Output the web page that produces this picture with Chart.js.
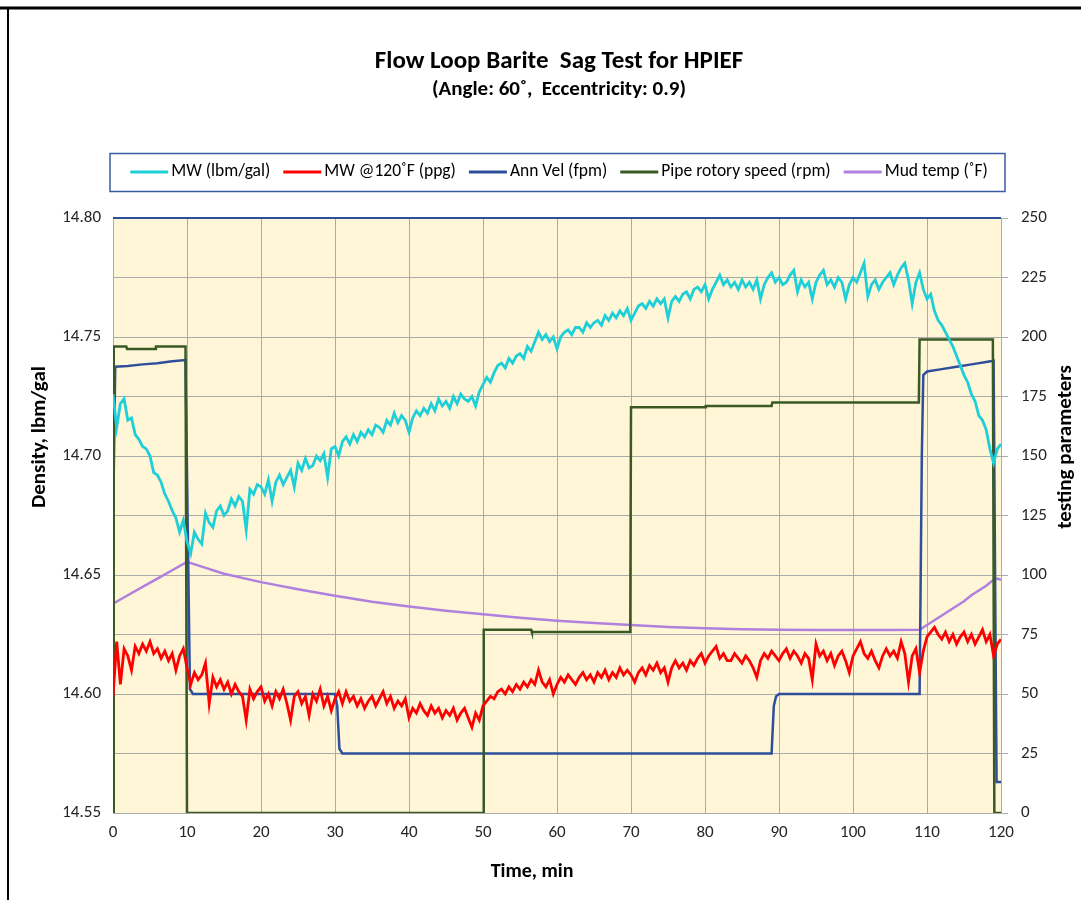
<!DOCTYPE html>
<html>
<head>
<meta charset="utf-8">
<title>Flow Loop Barite Sag Test for HPIEF</title>
<script src="https://cdn.jsdelivr.net/npm/chart.js@4.4.1/dist/chart.umd.min.js"></script>
<style>
  html, body { margin: 0; padding: 0; background: #fff; }
  #wrap { width: 1081px; height: 900px; }
</style>
</head>
<body>
<div id="wrap"><canvas id="sag-chart" width="1081" height="900"></canvas></div>
<script>
const FONT = "Carlito, Calibri, Lato, sans-serif";

const TITLE = "Flow Loop Barite  Sag Test for HPIEF";
const SUBTITLE = "(Angle: 60˚,  Eccentricity: 0.9)";
const X_TITLE = "Time, min";
const Y_TITLE = "Density, lbm/gal";
const Y2_TITLE = "testing parameters";

const SERIES_NAMES = ["MW (lbm/gal)", "MW @120˚F (ppg)", "Ann Vel (fpm)", "Pipe rotory speed (rpm)", "Mud temp (˚F)"];

// time grid (min) shared by the two density series
const timeGrid = [
  0,0.5,1,1.5,2,2.5,3,3.5,4,4.5,5,5.5,6,6.5,7,7.5,8,8.5,9,9.5,
  10,10.5,11,11.5,12,12.5,13,13.5,14,14.5,15,15.5,16,16.5,17,17.5,18,18.5,19,19.5,
  20,20.5,21,21.5,22,22.5,23,23.5,24,24.5,25,25.5,26,26.5,27,27.5,28,28.5,29,29.5,
  30,30.5,31,31.5,32,32.5,33,33.5,34,34.5,35,35.5,36,36.5,37,37.5,38,38.5,39,39.5,
  40,40.5,41,41.5,42,42.5,43,43.5,44,44.5,45,45.5,46,46.5,47,47.5,48,48.5,49,49.5,
  50,50.5,51,51.5,52,52.5,53,53.5,54,54.5,55,55.5,56,56.5,57,57.5,58,58.5,59,59.5,
  60,60.5,61,61.5,62,62.5,63,63.5,64,64.5,65,65.5,66,66.5,67,67.5,68,68.5,69,69.5,
  70,70.5,71,71.5,72,72.5,73,73.5,74,74.5,75,75.5,76,76.5,77,77.5,78,78.5,79,79.5,
  80,80.5,81,81.5,82,82.5,83,83.5,84,84.5,85,85.5,86,86.5,87,87.5,88,88.5,89,89.5,
  90,90.5,91,91.5,92,92.5,93,93.5,94,94.5,95,95.5,96,96.5,97,97.5,98,98.5,99,99.5,
  100,100.5,101,101.5,102,102.5,103,103.5,104,104.5,105,105.5,106,106.5,107,107.5,108,108.5,109,109.5,
  110,110.5,111,111.5,112,112.5,113,113.5,114,114.5,115,115.5,116,116.5,117,117.5,118,118.5,119,119.5,
  120
];

const mwDensity = [
  14.726,14.712,14.722,14.724,14.715,14.716,14.709,14.707,14.704,14.703,
  14.700,14.693,14.692,14.689,14.684,14.681,14.677,14.674,14.668,14.673,
  14.664,14.659,14.668,14.665,14.663,14.676,14.672,14.670,14.677,14.679,
  14.675,14.677,14.682,14.679,14.683,14.681,14.669,14.686,14.684,14.688,
  14.687,14.684,14.690,14.681,14.689,14.692,14.688,14.691,14.694,14.687,
  14.697,14.694,14.699,14.695,14.696,14.700,14.698,14.701,14.691,14.703,
  14.704,14.700,14.706,14.708,14.705,14.709,14.706,14.710,14.708,14.711,
  14.709,14.713,14.712,14.710,14.715,14.713,14.718,14.714,14.717,14.715,
  14.710,14.716,14.719,14.717,14.720,14.718,14.722,14.719,14.724,14.721,
  14.723,14.720,14.725,14.722,14.726,14.724,14.723,14.725,14.721,14.727,
  14.730,14.733,14.731,14.735,14.738,14.739,14.737,14.741,14.739,14.742,
  14.743,14.741,14.746,14.744,14.748,14.752,14.749,14.751,14.748,14.750,
  14.745,14.750,14.752,14.753,14.751,14.754,14.754,14.752,14.756,14.754,
  14.756,14.757,14.755,14.759,14.757,14.760,14.758,14.761,14.759,14.762,
  14.757,14.760,14.763,14.764,14.762,14.765,14.763,14.766,14.764,14.766,
  14.758,14.765,14.767,14.765,14.768,14.769,14.766,14.770,14.771,14.769,
  14.772,14.766,14.770,14.773,14.776,14.772,14.774,14.771,14.773,14.770,
  14.774,14.771,14.773,14.770,14.774,14.766,14.772,14.775,14.777,14.773,
  14.775,14.772,14.773,14.776,14.778,14.769,14.774,14.771,14.773,14.766,
  14.773,14.776,14.778,14.772,14.774,14.771,14.775,14.773,14.766,14.772,
  14.775,14.773,14.777,14.781,14.767,14.772,14.774,14.770,14.773,14.775,
  14.777,14.772,14.776,14.779,14.781,14.774,14.764,14.773,14.777,14.770,
  14.766,14.768,14.761,14.757,14.755,14.752,14.749,14.746,14.742,14.738,
  14.734,14.731,14.726,14.723,14.717,14.715,14.711,14.703,14.697,14.703,
  14.705
];

const mw120Density = [
  14.599,14.622,14.604,14.619,14.616,14.610,14.620,14.617,14.621,14.618,
  14.622,14.617,14.619,14.615,14.618,14.614,14.617,14.610,14.616,14.619,
  14.611,14.604,14.609,14.606,14.608,14.613,14.596,14.607,14.603,14.606,
  14.602,14.605,14.600,14.604,14.601,14.599,14.589,14.602,14.598,14.601,
  14.603,14.597,14.600,14.595,14.601,14.598,14.602,14.596,14.589,14.599,
  14.601,14.596,14.599,14.591,14.600,14.597,14.602,14.595,14.599,14.593,
  14.598,14.601,14.596,14.601,14.597,14.599,14.595,14.598,14.594,14.597,
  14.599,14.595,14.598,14.601,14.596,14.599,14.594,14.597,14.595,14.598,
  14.590,14.594,14.592,14.596,14.593,14.591,14.595,14.592,14.594,14.590,
  14.593,14.591,14.594,14.589,14.592,14.594,14.590,14.586,14.592,14.589,
  14.595,14.597,14.599,14.598,14.601,14.602,14.600,14.603,14.601,14.604,
  14.602,14.605,14.603,14.606,14.604,14.610,14.605,14.603,14.606,14.600,
  14.604,14.607,14.605,14.608,14.606,14.604,14.607,14.609,14.606,14.608,
  14.605,14.609,14.607,14.610,14.606,14.609,14.607,14.611,14.608,14.610,
  14.608,14.605,14.609,14.611,14.608,14.612,14.610,14.613,14.609,14.611,
  14.605,14.611,14.614,14.611,14.613,14.610,14.614,14.612,14.615,14.617,
  14.613,14.616,14.618,14.620,14.615,14.617,14.614,14.614,14.617,14.615,
  14.613,14.616,14.614,14.611,14.607,14.614,14.617,14.615,14.618,14.616,
  14.614,14.617,14.619,14.615,14.618,14.616,14.613,14.617,14.615,14.606,
  14.621,14.616,14.618,14.614,14.617,14.612,14.616,14.618,14.614,14.609,
  14.616,14.619,14.622,14.617,14.615,14.618,14.614,14.611,14.616,14.619,
  14.616,14.618,14.615,14.622,14.617,14.605,14.616,14.619,14.609,14.618,
  14.624,14.626,14.628,14.625,14.623,14.626,14.622,14.625,14.621,14.624,
  14.626,14.622,14.625,14.621,14.624,14.627,14.622,14.625,14.616,14.621,
  14.623
];

const annVelTime  = [0, 0.3, 2, 4, 6, 8, 9.8, 10.1, 10.4, 10.8, 30, 30.3, 30.6, 31, 89, 89.3, 89.6, 90, 109, 109.3, 109.5, 110, 112, 114, 116, 118, 119, 119.2, 119.4, 120];
const annVelValue = [120, 187.5, 187.8, 188.5, 189, 189.8, 190.3, 120, 52, 50, 50, 45, 27, 25, 25, 45, 49, 50, 50, 150, 184, 185.5, 186.5, 187.5, 188.5, 189.5, 190, 100, 13, 13];

const rpmTime  = [0, 0.1, 1.8, 1.9, 5.7, 5.8, 9.8, 10, 50, 50.1, 56.5, 56.6, 69.9, 70, 80, 80.1, 89, 89.1, 108.9, 109, 118.9, 119.1, 120];
const rpmValue = [0, 196, 196, 195, 195, 196, 196, 0, 0, 77, 77, 76, 76, 170.5, 170.5, 171, 171, 172.5, 172.5, 199, 199, 0, 0];

const mudTempTime  = [0, 2, 4, 6, 8, 10, 12, 15, 20, 25, 30, 35, 40, 45, 50, 55, 60, 65, 70, 75, 80, 85, 90, 95, 100, 105, 109, 110, 111, 112, 113, 114, 115, 116, 117, 118, 119, 119.5, 120];
const mudTempValue = [88, 91.5, 95, 98.5, 102, 105.5, 103.5, 100.5, 97, 94, 91.3, 88.8, 86.8, 85, 83.5, 82, 80.8, 79.8, 79, 78.2, 77.6, 77.2, 77, 76.9, 76.9, 76.9, 77, 79, 81, 83, 85, 87, 89, 91.5, 93.5, 95.5, 98, 98.5, 98];

const xTicks = { min: 0, max: 120, step: 10 };
const yTicks = { min: 14.55, max: 14.80, step: 0.05 };
const y2Ticks = { min: 0, max: 250, step: 25 };

const COLORS = ["#1ECFD8", "#FF0000", "#2E4F9C", "#3A5A24", "#B080DE"];
const PLOT_BG = "#FFF5D7";
const GRID = "#ABABAB";
const TEXT = "#262626";

function pairs(xs, ys) {
  return xs.map((x, i) => ({ x: x, y: ys[i] }));
}

const chartDecor = {
  id: "chartDecor",
  beforeDraw(chart) {
    const { ctx, chartArea: a } = chart;
    ctx.save();
    ctx.fillStyle = "#ffffff";
    ctx.fillRect(0, 0, chart.width, chart.height);
    ctx.fillStyle = PLOT_BG;
    ctx.fillRect(a.left, a.top, a.right - a.left, a.bottom - a.top);
    ctx.restore();
  },
  afterDraw(chart) {
    const { ctx, chartArea: a } = chart;
    const cx = (a.left + a.right) / 2;
    ctx.save();

    // outer frame
    ctx.strokeStyle = "#000";
    ctx.lineWidth = 3;
    ctx.beginPath();
    ctx.moveTo(0, 8); ctx.lineTo(chart.width, 8);
    ctx.stroke();
    ctx.lineWidth = 2;
    ctx.beginPath();
    ctx.moveTo(8, 8); ctx.lineTo(8, chart.height);
    ctx.stroke();

    // top edge of plot
    ctx.strokeStyle = COLORS[2];
    ctx.lineWidth = 2;
    ctx.beginPath();
    ctx.moveTo(a.left, a.top); ctx.lineTo(a.right, a.top);
    ctx.stroke();

    // titles
    ctx.fillStyle = "#000";
    ctx.textAlign = "center";
    ctx.textBaseline = "middle";
    ctx.font = "bold 25px " + FONT;
    ctx.fillText(TITLE, cx + 2, 62);
    ctx.font = "bold 21px " + FONT;
    ctx.fillText(SUBTITLE, cx + 2, 90);

    ctx.font = "bold 20px " + FONT;
    ctx.fillText(X_TITLE, 532, 872);
    ctx.font = "bold 21px " + FONT;
    ctx.save();
    ctx.translate(40, 437);
    ctx.rotate(-Math.PI / 2);
    ctx.fillText(Y_TITLE, 0, 0);
    ctx.restore();
    ctx.save();
    ctx.translate(1066, 447);
    ctx.rotate(-Math.PI / 2);
    ctx.fillText(Y2_TITLE, 0, 0);
    ctx.restore();

    // legend in a box
    const lineLen = 38, gap = 13, ly = 172;
    ctx.font = "17.5px " + FONT;
    const items = chart.data.datasets.map(ds => ({
      text: ds.label,
      color: ds.borderColor,
      w: lineLen + 3 + ctx.measureText(ds.label).width
    }));
    const total = items.reduce((s, it) => s + it.w, 0) + gap * (items.length - 1);
    ctx.strokeStyle = "#3B5BA5";
    ctx.lineWidth = 1.5;
    ctx.strokeRect(a.left - 3, 153.5, a.right - a.left + 7, 38);
    let x = cx + 2 - total / 2;
    ctx.textAlign = "left";
    items.forEach(it => {
      ctx.strokeStyle = it.color;
      ctx.lineWidth = 3;
      ctx.beginPath();
      ctx.moveTo(x, ly); ctx.lineTo(x + lineLen, ly);
      ctx.stroke();
      ctx.fillStyle = "#000";
      ctx.fillText(it.text, x + lineLen + 3, ly);
      x += it.w + gap;
    });
    ctx.restore();
  }
};

const lineStyle = { pointRadius: 0, borderWidth: 2.5, tension: 0, fill: false };

new Chart(document.getElementById("sag-chart"), {
  type: "line",
  data: {
    labels: timeGrid,
    datasets: [
      { ...lineStyle, label: SERIES_NAMES[0], data: mwDensity, yAxisID: "y", borderColor: COLORS[0], backgroundColor: COLORS[0], borderWidth: 2.8, order: 0 },
      { ...lineStyle, label: SERIES_NAMES[1], data: mw120Density, yAxisID: "y", borderColor: COLORS[1], backgroundColor: COLORS[1], borderWidth: 2.8, order: 1 },
      { ...lineStyle, label: SERIES_NAMES[2], data: pairs(annVelTime, annVelValue), yAxisID: "y2", borderColor: COLORS[2], backgroundColor: COLORS[2], order: 3 },
      { ...lineStyle, label: SERIES_NAMES[3], data: pairs(rpmTime, rpmValue), yAxisID: "y2", borderColor: COLORS[3], backgroundColor: COLORS[3], order: 2 },
      { ...lineStyle, label: SERIES_NAMES[4], data: pairs(mudTempTime, mudTempValue), yAxisID: "y2", borderColor: COLORS[4], backgroundColor: COLORS[4], order: 4 }
    ]
  },
  options: {
    responsive: false,
    animation: false,
    devicePixelRatio: 1,
    layout: { padding: { top: 218, left: 0, right: 0, bottom: 0 } },
    plugins: {
      legend: { display: false },
      title: { display: false },
      tooltip: { enabled: false }
    },
    scales: {
      x: {
        type: "linear",
        min: xTicks.min, max: xTicks.max,
        ticks: { stepSize: xTicks.step, padding: 10, color: TEXT, font: { family: FONT, size: 17 } },
        grid: { color: GRID, lineWidth: 1, drawTicks: false },
        border: { display: true, color: GRID },
        afterFit(scale) { scale.height = 87; }
      },
      y: {
        position: "left",
        min: yTicks.min, max: yTicks.max,
        ticks: { stepSize: yTicks.step, padding: 12, color: TEXT, font: { family: FONT, size: 17 }, callback: v => v.toFixed(2) },
        grid: { display: false, drawTicks: false },
        border: { display: false },
        afterFit(scale) { scale.width = 113; }
      },
      y2: {
        position: "right",
        min: y2Ticks.min, max: y2Ticks.max,
        ticks: { stepSize: y2Ticks.step, padding: 13, color: TEXT, font: { family: FONT, size: 17 } },
        grid: { color: GRID, lineWidth: 1, tickLength: 7 },
        border: { display: true, color: GRID },
        afterFit(scale) { scale.width = 80; }
      }
    }
  },
  plugins: [chartDecor]
});
</script>
</body>
</html>
